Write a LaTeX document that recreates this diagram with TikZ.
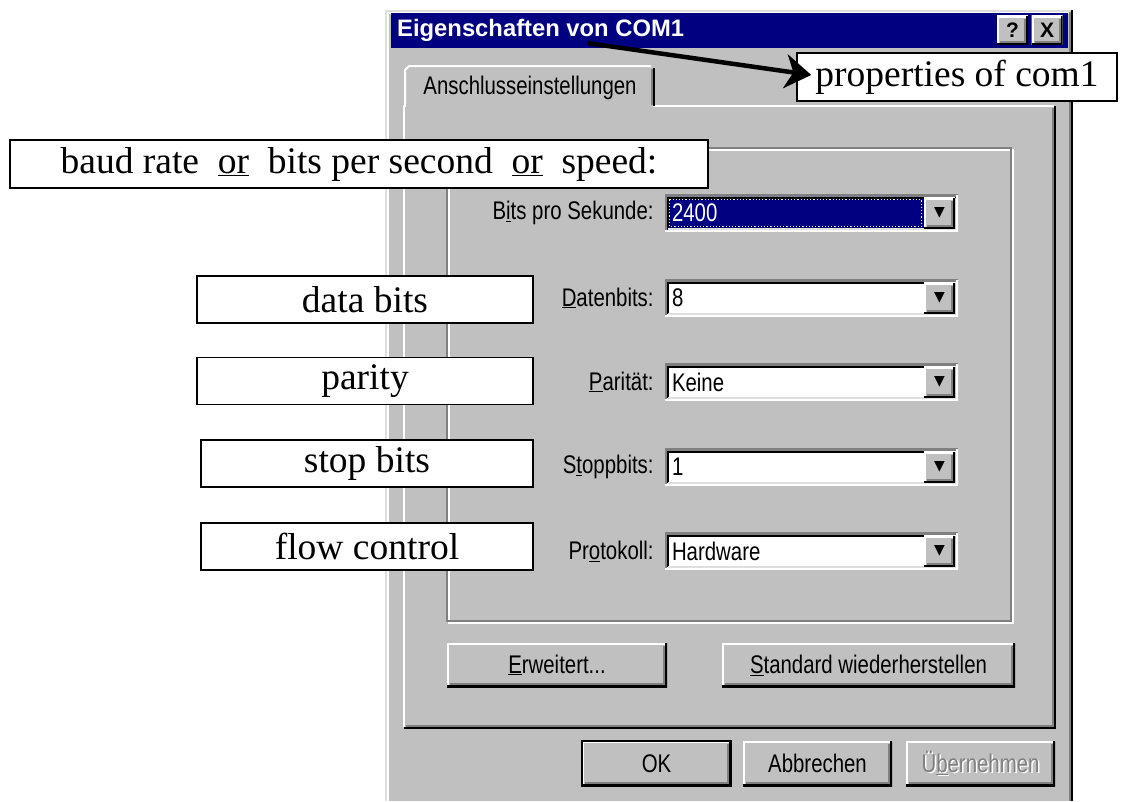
\documentclass[tikz,border=0pt]{standalone}
\usepackage{fontspec}
\setmainfont{Liberation Serif}
\newfontfamily\uifont[FakeStretch=0.8]{Liberation Sans}
\newfontfamily\titlefont{Liberation Sans}
\newfontfamily\symfont{DejaVu Sans}
\usepackage{tikz}
\usetikzlibrary{positioning, arrows.meta}

\definecolor{winface}{RGB}{192,192,192}
\definecolor{winshadow}{RGB}{128,128,128}
\definecolor{winlight}{RGB}{223,223,223}
\definecolor{wintitle}{RGB}{0,0,128}
\definecolor{focusdot}{RGB}{255,255,150}

\begin{document}
\begin{tikzpicture}[x=1pt, y=-1pt, >=Stealth,
    note/.style={draw, fill=white, line width=1.5pt, inner sep=0pt,
        font=\fontsize{37.5}{38}\selectfont},
    ui/.style={font=\uifont\fontsize{25.5}{26}\selectfont},
    raised/.style={fill=winface, ui, inner sep=0pt, path picture={
        \draw[white, line width=4pt] (path picture bounding box.south west) |- (path picture bounding box.north east);
        \draw[black, line width=4pt] (path picture bounding box.south west) -| (path picture bounding box.north east);
        \draw[winshadow, line width=2pt] ([shift={(3pt,3pt)}]path picture bounding box.south west) -| ([shift={(-3pt,-3pt)}]path picture bounding box.north east);
    }},
    sunken/.style={fill=white, path picture={
        \draw[winshadow, line width=4pt] (path picture bounding box.south west) |- (path picture bounding box.north east);
        \draw[white, line width=4pt] (path picture bounding box.south west) -| (path picture bounding box.north east);
        \draw[black, line width=2pt] ([shift={(3pt,3pt)}]path picture bounding box.south west) |- ([shift={(-3pt,-3pt)}]path picture bounding box.north east);
        \draw[winlight, line width=2pt] ([shift={(3pt,3pt)}]path picture bounding box.south west) -| ([shift={(-3pt,-3pt)}]path picture bounding box.north east);
    }},
    combo/.style={sunken, ui, text width=279pt, minimum height=37pt, inner xsep=7pt, inner ysep=0pt, align=left},
    dropbtn/.style={raised, minimum width=31pt, minimum height=31pt, anchor=east, font=\symfont\fontsize{14}{14}\selectfont},
    uilabel/.style={ui, inner sep=0pt, anchor=east},
    titlebtn/.style={raised, minimum width=31pt, minimum height=29pt, font=\titlefont\bfseries\fontsize{21}{21}\selectfont},
    pointer/.style={->, line width=4.5pt, >={Stealth[length=26pt, width=34pt, inset=8pt]}},
]
    \useasboundingbox (0,0) rectangle (1125,801);
    \fill[white] (0,0) rectangle (1125,801);

    % dialog window
    \fill[winface] (385,10) rectangle (1073,801);
    \draw[winlight, line width=2pt] (386,801) -- (386,11) -- (1071,11);
    \draw[white, line width=2pt] (388,801) -- (388,13) -- (1069,13);
    \draw[black, line width=2pt] (1072,10) -- (1072,801);
    \draw[winshadow, line width=2pt] (1070,12) -- (1070,801);
    \fill[wintitle] (391,13) rectangle (1068,48);
    \node[anchor=west, inner sep=0pt, text=white, font=\titlefont\bfseries\fontsize{23.8}{24}\selectfont] (title) at (397,30) {Eigenschaften von COM1};
    \node[titlebtn] (helpbtn) at (1012.5,30) {?};
    \node[titlebtn] (closebtn) at (1047,30) {X};

    % tab page
    \draw[white, line width=2pt] (404,727) -- (404,106) -- (1054,106);
    \draw[black, line width=2pt] (404,728) -- (1055,728) -- (1055,106);
    \draw[winshadow, line width=2pt] (406,726) -- (1053,726) -- (1053,108);
    \fill[winface] (406,66) rectangle (653,109);
    \draw[white, line width=2pt] (405,107) -- (405,70) -- (409,66) -- (651,66);
    \draw[black, line width=2pt] (654,68) -- (654,106);
    \draw[winshadow, line width=2pt] (652,69) -- (652,105);
    \node[ui] (tabtext) at (530,88) {Anschlusseinstellungen};

    % group box
    \draw[white, line width=2pt] (449,150) rectangle (1013,623);
    \draw[winshadow, line width=2pt] (447,148) rectangle (1011,621);

    \node[combo, fill=wintitle, text=white] (baudbox) at (811.5,213) {2400};
    \draw[focusdot, dotted, line width=1.2pt] ([shift={(5pt,-5pt)}]baudbox.north west) rectangle ([shift={(-37pt,5pt)}]baudbox.south east);
    \node[combo] (databox) at (811.5,298) {8};
    \node[combo] (paritybox) at (811.5,382) {Keine};
    \node[combo] (stopbox) at (811.5,467) {1};
    \node[combo] (flowbox) at (811.5,551) {Hardware};

    \node[dropbtn] (baudarrow) at ([xshift=-3pt]baudbox.east) {▼};
    \node[dropbtn] (dataarrow) at ([xshift=-3pt]databox.east) {▼};
    \node[dropbtn] (parityarrow) at ([xshift=-3pt]paritybox.east) {▼};
    \node[dropbtn] (stoparrow) at ([xshift=-3pt]stopbox.east) {▼};
    \node[dropbtn] (flowarrow) at ([xshift=-3pt]flowbox.east) {▼};

    \node[uilabel, left=11pt of baudbox] (baudlabel) {B\underline{i}ts pro Sekunde:};
    \node[uilabel, left=11pt of databox] (datalabel) {\underline{D}atenbits:};
    \node[uilabel, left=11pt of paritybox] (paritylabel) {\underline{P}arität:};
    \node[uilabel, left=11pt of stopbox] (stoplabel) {S\underline{t}oppbits:};
    \node[uilabel, left=11pt of flowbox] (flowlabel) {Pr\underline{o}tokoll:};

    \node[raised, minimum width=220pt, minimum height=44pt] (advbtn) at (557,665) {\underline{E}rweitert...};
    \node[raised, minimum width=293pt, minimum height=44pt] (resetbtn) at (868.5,665) {\underline{S}tandard wiederherstellen};

    % dialog buttons
    \node[raised, draw=black, line width=2pt, minimum width=149pt, minimum height=45pt] (okbtn) at (656.5,763.5) {OK};
    \node[raised, minimum width=149pt, minimum height=45pt] (cancelbtn) at (817.5,763.5) {Abbrechen};
    \node[raised, minimum width=149pt, minimum height=45pt] (applybtn) at (980.5,763.5)
        {\rlap{\kern1.5pt\raisebox{-1.5pt}{\color{white}Ü\underline{b}ernehmen}}\textcolor{winshadow}{Ü\underline{b}ernehmen}};

    % annotations
    \node[note, minimum width=320pt, minimum height=48pt] (propsnote) at (957,77) {properties of com1};
    \node[note, minimum width=698pt, minimum height=48pt] (baudnote) at (359,164) {baud rate \ \underline{or} \ bits per second \ \underline{or} \ speed:};
    \node[note, minimum width=336pt, minimum height=47pt] (datanote) at (365,299.5) {data bits};
    \node[note, minimum width=336pt, minimum height=47pt] (paritynote) at (365,381) {parity};
    \node[note, minimum width=332pt, minimum height=47pt] (stopnote) at (367,463.5) {stop bits};
    \node[note, minimum width=332pt, minimum height=47pt] (flownote) at (367,546.5) {flow control};

    \coordinate (titlept) at (587,43);
    \draw[pointer] (titlept) -- ([xshift=15pt, yshift=2pt]propsnote.west);
\end{tikzpicture}
\end{document}
